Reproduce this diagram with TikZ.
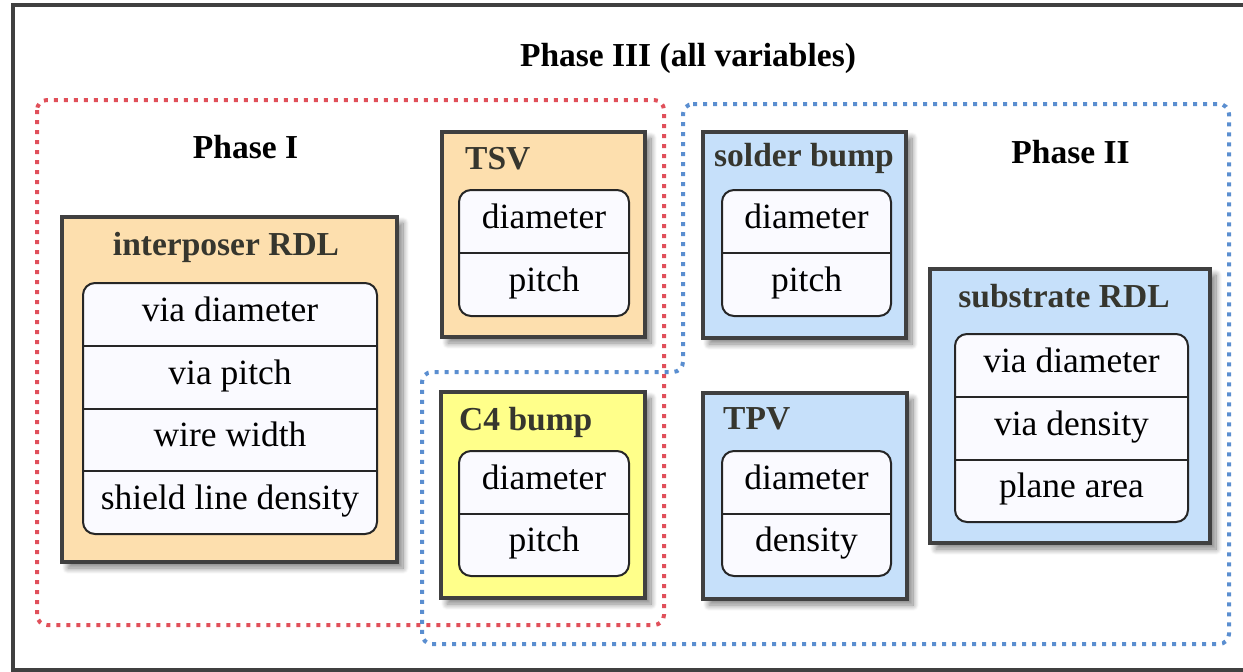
\documentclass[tikz,border=0pt]{standalone}
\usepackage{fontspec}
\setmainfont{Liberation Serif}
\usetikzlibrary{shadows.blur}

\definecolor{peach}{HTML}{FDDFAE}
\definecolor{sky}{HTML}{C6E0FA}
\definecolor{lemon}{HTML}{FFFF8A}
\definecolor{frameGray}{HTML}{404040}
\definecolor{titleGray}{HTML}{36362E}
\definecolor{redDot}{HTML}{E0505A}
\definecolor{blueDot}{HTML}{5A8ED0}

\tikzset{
  varbox/.style={draw=frameGray, line width=4pt, inner sep=0pt,
    blur shadow={shadow xshift=6pt, shadow yshift=-6pt,
      shadow blur radius=6pt, shadow blur steps=12, shadow opacity=50}},
  cellbox/.style={draw=black!85, line width=2pt, fill=white!98!blue,
    rounded corners=12pt, inner sep=0pt},
  cell/.style={font=\fontsize{35.5}{40}\selectfont, text height=24pt,
    text depth=10pt, inner sep=0pt, minimum height=62.75pt},
  divider/.style={draw=black!85, line width=2pt},
  boxtitle/.style={font=\fontsize{33.5}{38}\selectfont\bfseries,
    text=titleGray, inner sep=0pt},
  phase/.style={font=\fontsize{33.5}{38}\selectfont\bfseries, inner sep=0pt},
  group/.style={line width=4pt, dash pattern=on 4pt off 6pt,
    rounded corners=10pt},
}

\begin{document}
\begin{tikzpicture}[x=1pt, y=-1pt]
\useasboundingbox (0,0) rectangle (1243,672);

% outer frame
\draw[frameGray, line width=4pt] (13,5) rectangle (1252,670);

% phase groups
\draw[group, redDot] (37,100) rectangle (664,625);
\draw[group, blueDot] (683,104) -- (1229,104) -- (1229,644) -- (422,644)
  -- (422,372) -- (683,372) -- cycle;

% phase labels
\node[phase, anchor=base] (p3) at (688,66) {Phase III (all variables)};
\node[phase, anchor=base] (p1) at (245.5,158) {Phase I};
\node[phase, anchor=base] (p2) at (1070.5,163) {Phase II};

% interposer RDL
\node[varbox, fill=peach, minimum width=335pt, minimum height=345pt] (ir) at (229.5,389.5) {};
\node[boxtitle, anchor=base] (irt) at (226,255) {interposer RDL};
\node[cellbox, minimum width=294pt, minimum height=251pt] (iri) at (230,408.5) {};
\node[cell, minimum width=294pt] (ir1) at (230,314.4) {via diameter};
\node[cell, minimum width=294pt] (ir2) at (230,377.1) {via pitch};
\node[cell, minimum width=294pt] (ir3) at (230,439.9) {wire width};
\node[cell, minimum width=294pt] (ir4) at (230,502.6) {shield line density};
\draw[divider] (ir1.south west) -- (ir1.south east);
\draw[divider] (ir2.south west) -- (ir2.south east);
\draw[divider] (ir3.south west) -- (ir3.south east);

% TSV
\node[varbox, fill=peach, minimum width=203pt, minimum height=205pt] (tsv) at (543.5,234.5) {};
\node[boxtitle, anchor=base west] (tsvt) at (465,169) {TSV};
\node[cellbox, minimum width=170pt, minimum height=126pt] (tsvi) at (544,253) {};
\node[cell, minimum width=170pt, minimum height=63pt] (tsv1) at (544,221.5) {diameter};
\node[cell, minimum width=170pt, minimum height=63pt] (tsv2) at (544,284.5) {pitch};
\draw[divider] (tsv1.south west) -- (tsv1.south east);

% C4 bump
\node[varbox, fill=lemon, minimum width=204pt, minimum height=206pt] (c4) at (543,495) {};
\node[boxtitle, anchor=base west] (c4t) at (459,430) {C4 bump};
\node[cellbox, minimum width=170pt, minimum height=125pt] (c4i) at (544,513.5) {};
\node[cell, minimum width=170pt, minimum height=62.5pt] (c41) at (544,482.25) {diameter};
\node[cell, minimum width=170pt, minimum height=62.5pt] (c42) at (544,544.75) {pitch};
\draw[divider] (c41.south west) -- (c41.south east);

% solder bump
\node[varbox, fill=sky, minimum width=203pt, minimum height=206pt] (sb) at (804.5,235) {};
\node[boxtitle, anchor=base] (sbt) at (804,166) {solder bump};
\node[cellbox, minimum width=169pt, minimum height=126pt] (sbi) at (806.5,253) {};
\node[cell, minimum width=169pt, minimum height=63pt] (sb1) at (806.5,221.5) {diameter};
\node[cell, minimum width=169pt, minimum height=63pt] (sb2) at (806.5,284.5) {pitch};
\draw[divider] (sb1.south west) -- (sb1.south east);

% TPV
\node[varbox, fill=sky, minimum width=204pt, minimum height=206pt] (tpv) at (805,496) {};
\node[boxtitle, anchor=base west] (tpvt) at (723,429) {TPV};
\node[cellbox, minimum width=169pt, minimum height=125pt] (tpvi) at (806.5,513.5) {};
\node[cell, minimum width=169pt, minimum height=62.5pt] (tpv1) at (806.5,482.25) {diameter};
\node[cell, minimum width=169pt, minimum height=62.5pt] (tpv2) at (806.5,544.75) {density};
\draw[divider] (tpv1.south west) -- (tpv1.south east);

% substrate RDL
\node[varbox, fill=sky, minimum width=280pt, minimum height=274pt] (sr) at (1070,406) {};
\node[boxtitle, anchor=base] (srt) at (1064,307) {substrate RDL};
\node[cellbox, minimum width=233pt, minimum height=188pt] (sri) at (1071.5,428) {};
\node[cell, minimum width=233pt, minimum height=62.67pt] (sr1) at (1071.5,365.3) {via diameter};
\node[cell, minimum width=233pt, minimum height=62.67pt] (sr2) at (1071.5,428) {via density};
\node[cell, minimum width=233pt, minimum height=62.67pt] (sr3) at (1071.5,490.7) {plane area};
\draw[divider] (sr1.south west) -- (sr1.south east);
\draw[divider] (sr2.south west) -- (sr2.south east);
\end{tikzpicture}
\end{document}
